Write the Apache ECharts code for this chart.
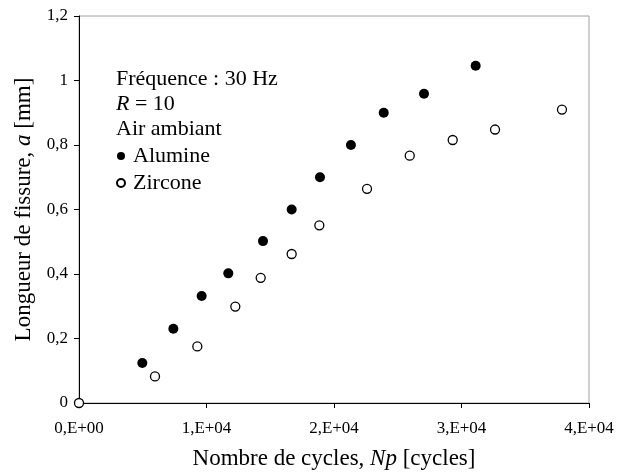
<!DOCTYPE html>
<html>
<head>
<meta charset="utf-8">
<script src="https://cdn.jsdelivr.net/npm/echarts@6/dist/echarts.min.js"></script>
<style>
html,body{margin:0;padding:0;background:#fff;}
#chart{width:626px;height:472px;}
</style>
</head>
<body>
<div id="chart"></div>
<script>
// Data
var aluminaCycles = [4965, 7400, 9620, 11710, 14430, 16680, 18900, 21330, 23900, 27060, 31110];
var aluminaCrack  = [0.124, 0.230, 0.332, 0.402, 0.502, 0.600, 0.700, 0.800, 0.900, 0.959, 1.046];
var zirconiaCycles = [0, 5960, 9280, 12260, 14250, 16680, 18850, 22590, 25940, 29310, 32630, 37880];
var zirconiaCrack  = [0, 0.0825, 0.1755, 0.299, 0.388, 0.462, 0.551, 0.664, 0.767, 0.8155, 0.848, 0.910];
var xTickLabels = ['0,E+00', '1,E+04', '2,E+04', '3,E+04', '4,E+04'];
var yTickLabels = ['0', '0,2', '0,4', '0,6', '0,8', '1', '1,2'];
var seriesNames = ['Alumine', 'Zircone'];

function pairs(xs, ys) { return xs.map(function (x, i) { return [x, ys[i]]; }); }

var FONT = '"Liberation Serif", "Times New Roman", serif';
var chart = echarts.init(document.getElementById('chart'), null, {renderer: 'canvas'});
chart.setOption({
  backgroundColor: '#fff',
  animation: false,
  grid: {left: 79, right: 37, top: 16, bottom: 69, containLabel: false, outerBoundsMode: 'none',
    show: true, borderColor: '#a0a0a0', borderWidth: 1, backgroundColor: 'transparent'},
  xAxis: {
    type: 'value', min: 0, max: 40000, interval: 10000,
    splitLine: {show: false},
    axisLine: {show: true, lineStyle: {color: '#000', width: 1}},
    axisTick: {show: true, inside: false, length: 5, lineStyle: {color: '#000'}},
    axisLabel: {color: '#000', fontFamily: FONT, fontSize: 17, margin: 17,
      formatter: function (v) { return xTickLabels[Math.round(v / 10000)]; }},
    name: '{n|Nombre de cycles, }{i|Np}{n| [cycles]}',
    nameLocation: 'middle', nameGap: 44,
    nameTextStyle: {rich: {
      n: {fontFamily: FONT, fontSize: 23, color: '#000'},
      i: {fontFamily: FONT, fontSize: 23, color: '#000', fontStyle: 'italic'}
    }}
  },
  yAxis: {
    type: 'value', min: 0, max: 1.2, interval: 0.2,
    splitLine: {show: false},
    axisLine: {show: true, lineStyle: {color: '#000', width: 1}},
    axisTick: {show: true, inside: false, length: 5, lineStyle: {color: '#000'}},
    axisLabel: {color: '#000', fontFamily: FONT, fontSize: 17, margin: 11,
      formatter: function (v) { return yTickLabels[Math.round(v / 0.2)]; }},
    name: '{n|Longueur de fissure, }{i|a}{n| [mm]}',
    nameLocation: 'middle', nameGap: 44,
    nameTextStyle: {rich: {
      n: {fontFamily: FONT, fontSize: 23, color: '#000'},
      i: {fontFamily: FONT, fontSize: 23, color: '#000', fontStyle: 'italic'}
    }}
  },
  legend: {
    orient: 'vertical', left: 111, top: 140, itemGap: 5,
    itemWidth: 8, itemHeight: 8,
    textStyle: {fontFamily: FONT, fontSize: 22, color: '#000', padding: [0, 0, 0, 3]},
    data: [
      {name: seriesNames[0], icon: 'circle'},
      {name: seriesNames[1], icon: 'circle'}
    ]
  },
  graphic: [{
    type: 'text', left: 116, top: 68,
    style: {
      text: '{n|Fréquence : 30 Hz}\n{i|R}{n| = 10}\n{n|Air ambiant}',
      rich: {
        n: {fontFamily: FONT, fontSize: 22, fill: '#000', lineHeight: 25},
        i: {fontFamily: FONT, fontSize: 22, fill: '#000', fontStyle: 'italic', lineHeight: 25}
      }
    }
  }],
  series: [
    {
      name: seriesNames[0], type: 'scatter', symbol: 'circle', symbolSize: 10,
      itemStyle: {color: '#000', opacity: 1},
      data: pairs(aluminaCycles, aluminaCrack), z: 3
    },
    {
      name: seriesNames[1], type: 'scatter', symbol: 'circle', symbolSize: 9,
      itemStyle: {color: '#fff', borderColor: '#000', borderWidth: 1.3, opacity: 1},
      data: pairs(zirconiaCycles, zirconiaCrack), z: 4
    }
  ]
});
</script>
</body>
</html>
